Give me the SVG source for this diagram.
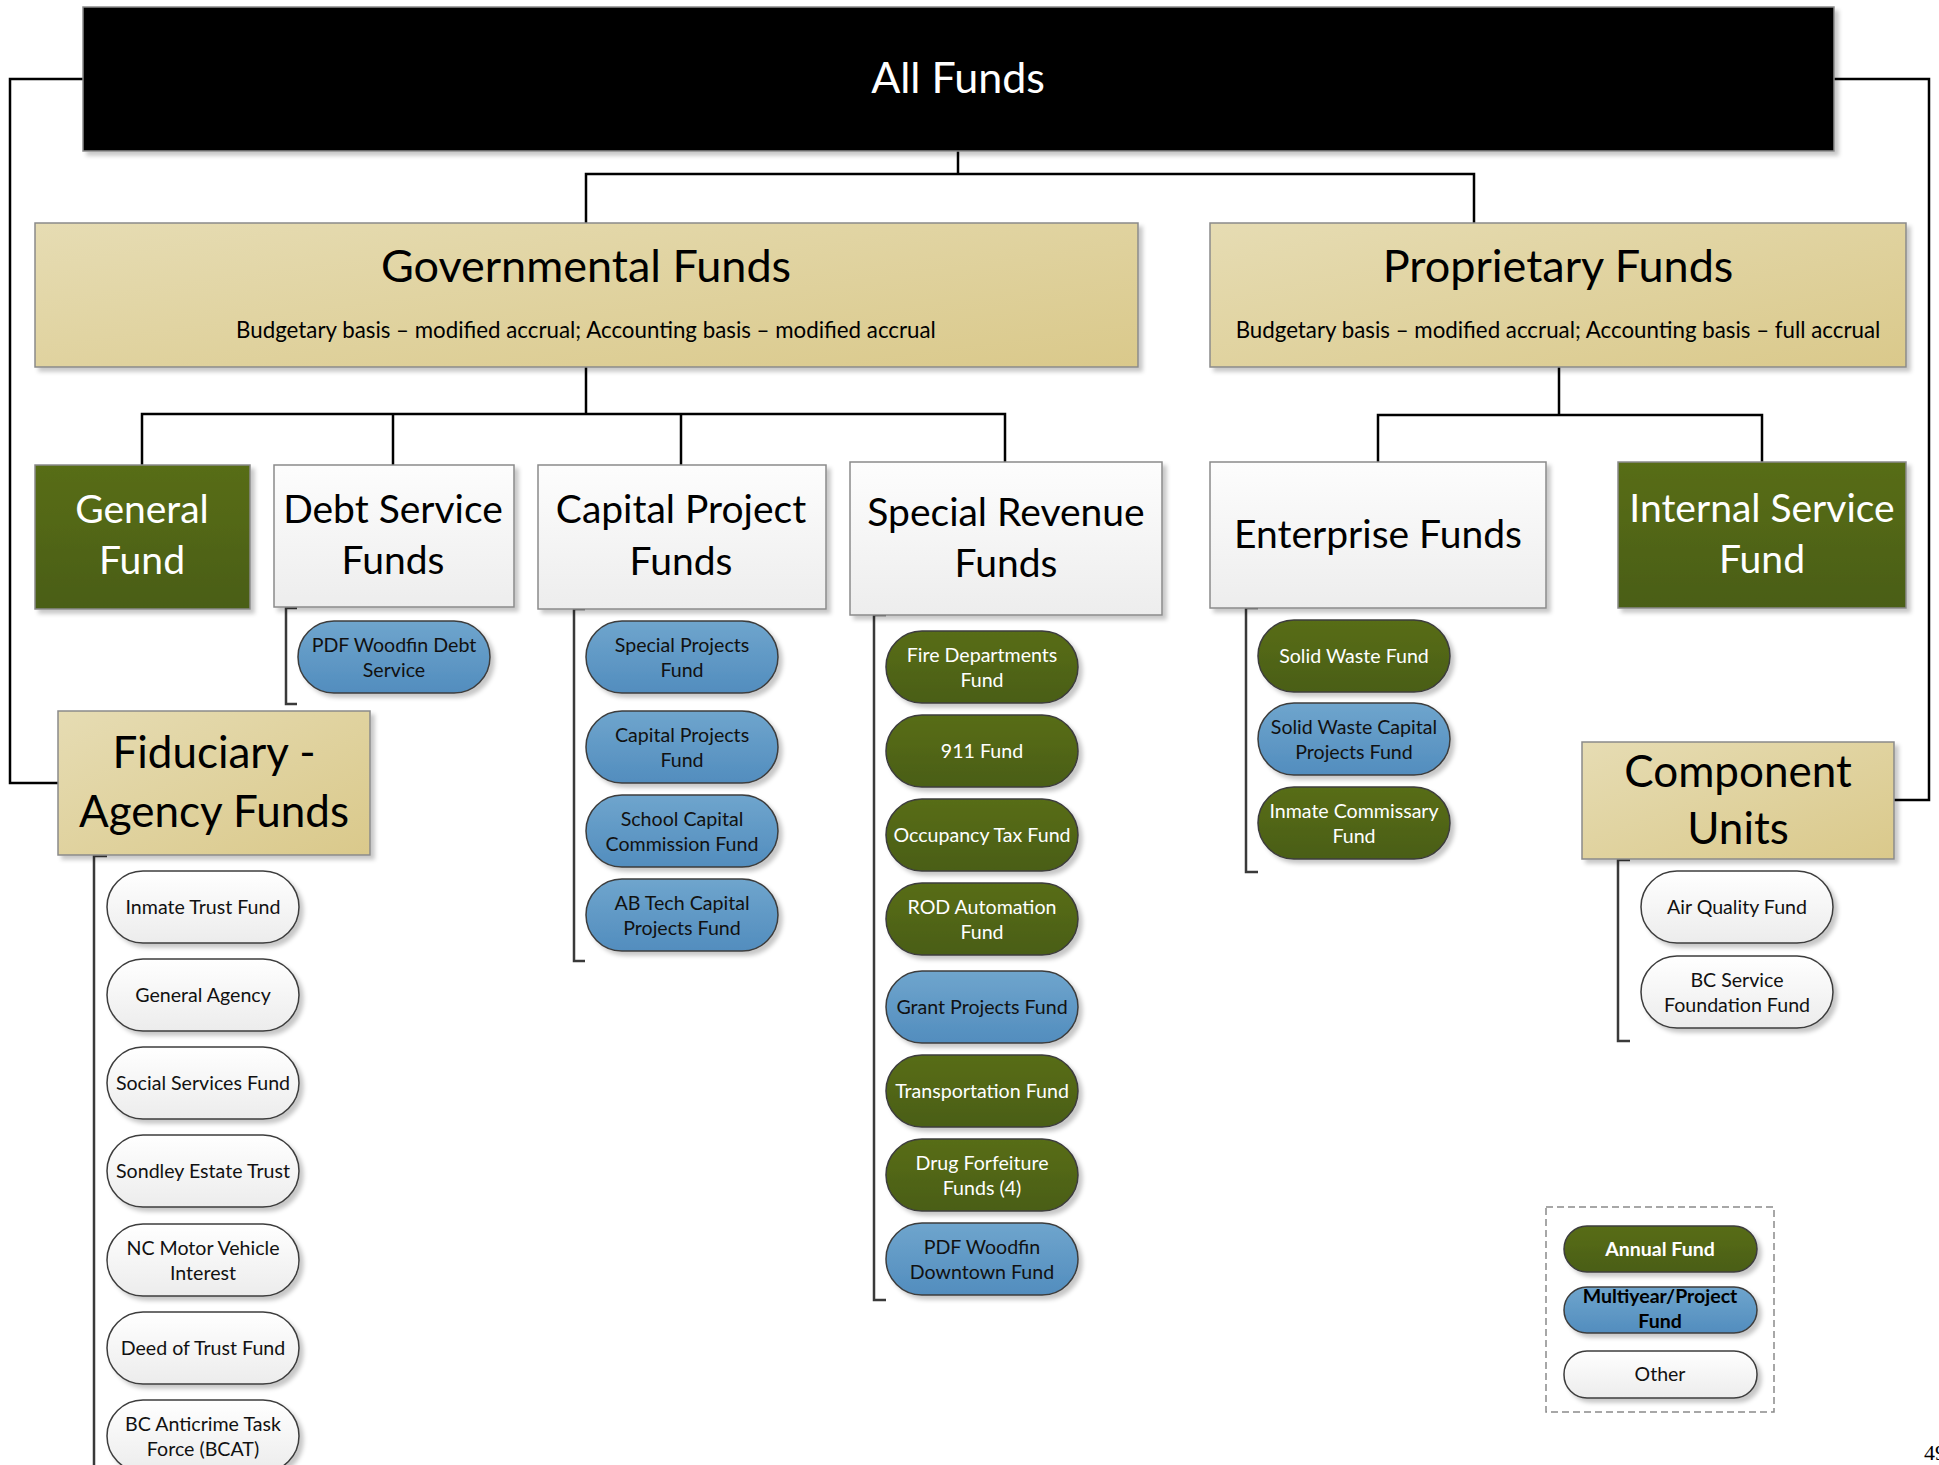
<svg xmlns="http://www.w3.org/2000/svg" width="1939" height="1465" viewBox="0 0 1939 1465">
  <defs>
    <linearGradient id="gTan" x1="0" y1="0" x2="1" y2="1">
      <stop offset="0" stop-color="#e6dcb3"/>
      <stop offset="1" stop-color="#dac98b"/>
    </linearGradient>
    <linearGradient id="gWhite" x1="0" y1="0" x2="0" y2="1">
      <stop offset="0" stop-color="#fdfdfd"/>
      <stop offset="1" stop-color="#ededed"/>
    </linearGradient>
    <linearGradient id="gGreen" x1="0" y1="0" x2="0" y2="1">
      <stop offset="0" stop-color="#586d19"/>
      <stop offset="1" stop-color="#4a5e14"/>
    </linearGradient>
    <linearGradient id="gBlue" x1="0" y1="0" x2="0" y2="1">
      <stop offset="0" stop-color="#6fa5cd"/>
      <stop offset="1" stop-color="#528dbe"/>
    </linearGradient>
    <linearGradient id="gPillWhite" x1="0" y1="0" x2="0" y2="1">
      <stop offset="0" stop-color="#ffffff"/>
      <stop offset="1" stop-color="#ececec"/>
    </linearGradient>
    <filter id="shadow" x="-10%" y="-10%" width="125%" height="130%">
      <feDropShadow dx="4" dy="4" stdDeviation="2" flood-color="#000" flood-opacity="0.22"/>
    </filter>
  </defs>
  <style>
    text { font-family: Lato, "Open Sans", "Liberation Sans", sans-serif; text-anchor: middle; }
    .box { stroke: #8a8a8a; stroke-width: 1.5; filter: url(#shadow); }
    .tan { fill: url(#gTan); }
    .wht { fill: url(#gWhite); }
    .grn { fill: url(#gGreen); }
    .blk { fill: #000; }
    .pill { stroke: #3c3c3c; stroke-width: 1.5; filter: url(#shadow); }
    .pg { fill: url(#gGreen); }
    .pb { fill: url(#gBlue); }
    .pw { fill: url(#gPillWhite); }
    .t1 { font-size: 43px; fill: #fff; }
    .t2 { font-size: 45px; fill: #000; }
    .sub { font-size: 22.3px; fill: #000; }
    .t3 { font-size: 39px; fill: #000; }
    .t3w { font-size: 39px; fill: #fff; }
    .t4 { font-size: 44px; fill: #000; }
    .pt { font-size: 19.6px; fill: #111; }
    .ptw { font-size: 19.6px; fill: #fff; }
    .lg { font-size: 19.5px; font-weight: bold; }
    .conn { fill: none; stroke: #000; stroke-width: 2.5; }
    .brk { fill: none; stroke: #3a3a3a; stroke-width: 2.5; }
    .legend { fill: none; stroke: #8a8a8a; stroke-width: 1.5; stroke-dasharray: 7 4; }
  </style>

  <!-- connectors -->
  <g id="connectors">
    <polyline class="conn" points="958,151 958,174"/>
    <polyline class="conn" points="586,223 586,174 1474,174 1474,223"/>
    <polyline class="conn" points="83,79 10,79 10,783 58,783"/>
    <polyline class="conn" points="1834,79 1929,79 1929,800 1894,800"/>
    <polyline class="conn" points="586,367 586,414"/>
    <polyline class="conn" points="142,465 142,414 1005,414 1005,462"/>
    <polyline class="conn" points="393,414 393,465"/>
    <polyline class="conn" points="681,414 681,465"/>
    <polyline class="conn" points="1559,367 1559,415"/>
    <polyline class="conn" points="1378,462 1378,415 1762,415 1762,462"/>
    <!-- child brackets -->
    <polyline class="brk" points="297,608 286,608 286,704 297,704"/>
    <polyline class="brk" points="585,609 574,609 574,961 585,961"/>
    <polyline class="brk" points="886,615 874,615 874,1300 886,1300"/>
    <polyline class="brk" points="1258,608 1246,608 1246,872 1258,872"/>
    <polyline class="brk" points="1630,860 1618,860 1618,1041 1630,1041"/>
    <polyline class="brk" points="107,856 94,856 94,1470"/>
  </g>

  <!-- top level -->
  <g id="all-funds">
    <rect class="box blk" x="83" y="7" width="1751" height="144"/>
    <text class="t1" x="958" y="93">All Funds</text>
  </g>
  <g id="governmental-funds">
    <rect class="box tan" x="35" y="223" width="1103" height="144"/>
    <text class="t2" x="586" y="282">Governmental Funds</text>
    <text class="sub" x="586" y="338">Budgetary basis – modified accrual; Accounting basis – modified accrual</text>
  </g>
  <g id="proprietary-funds">
    <rect class="box tan" x="1210" y="223" width="696" height="144"/>
    <text class="t2" x="1558" y="282">Proprietary Funds</text>
    <text class="sub" x="1558" y="338">Budgetary basis – modified accrual; Accounting basis – full accrual</text>
  </g>

  <!-- fund types -->
  <g id="general-fund">
    <rect class="box grn" x="35" y="465" width="215" height="144"/>
    <text class="t3w" x="142" y="523">General</text>
    <text class="t3w" x="142" y="574">Fund</text>
  </g>
  <g id="debt-service-funds">
    <rect class="box wht" x="274" y="465" width="240" height="142"/>
    <text class="t3" x="393" y="523">Debt Service</text>
    <text class="t3" x="393" y="574">Funds</text>
  </g>
  <g id="capital-project-funds">
    <rect class="box wht" x="538" y="465" width="288" height="144"/>
    <text class="t3" x="681" y="523">Capital Project</text>
    <text class="t3" x="681" y="575">Funds</text>
  </g>
  <g id="special-revenue-funds">
    <rect class="box wht" x="850" y="462" width="312" height="153"/>
    <text class="t3" x="1006" y="526">Special Revenue</text>
    <text class="t3" x="1006" y="577">Funds</text>
  </g>
  <g id="enterprise-funds">
    <rect class="box wht" x="1210" y="462" width="336" height="146"/>
    <text class="t3" x="1378" y="548">Enterprise Funds</text>
  </g>
  <g id="internal-service-fund">
    <rect class="box grn" x="1618" y="462" width="288" height="146"/>
    <text class="t3w" x="1762" y="522">Internal Service</text>
    <text class="t3w" x="1762" y="573">Fund</text>
  </g>
  <g id="fiduciary-agency-funds">
    <rect class="box tan" x="58" y="711" width="312" height="144"/>
    <text class="t4" x="214" y="768">Fiduciary -</text>
    <text class="t4" x="214" y="827">Agency Funds</text>
  </g>
  <g id="component-units">
    <rect class="box tan" x="1582" y="742" width="312" height="117"/>
    <text class="t4" x="1738" y="787">Component</text>
    <text class="t4" x="1738" y="844">Units</text>
  </g>

  <!-- debt service -->
  <g id="pdf-woodfin-debt-service">
    <rect class="pill pb" x="298" y="621" width="192" height="72" rx="36"/>
    <text class="pt" x="394" y="652">PDF Woodfin Debt</text>
    <text class="pt" x="394" y="677">Service</text>
  </g>

  <!-- capital projects -->
  <g id="special-projects-fund">
    <rect class="pill pb" x="586" y="621" width="192" height="72" rx="36"/>
    <text class="pt" x="682" y="652">Special Projects</text>
    <text class="pt" x="682" y="677">Fund</text>
  </g>
  <g id="capital-projects-fund">
    <rect class="pill pb" x="586" y="711" width="192" height="72" rx="36"/>
    <text class="pt" x="682" y="742">Capital Projects</text>
    <text class="pt" x="682" y="767">Fund</text>
  </g>
  <g id="school-capital-commission-fund">
    <rect class="pill pb" x="586" y="795" width="192" height="72" rx="36"/>
    <text class="pt" x="682" y="826">School Capital</text>
    <text class="pt" x="682" y="851">Commission Fund</text>
  </g>
  <g id="ab-tech-capital-projects-fund">
    <rect class="pill pb" x="586" y="879" width="192" height="72" rx="36"/>
    <text class="pt" x="682" y="910">AB Tech Capital</text>
    <text class="pt" x="682" y="935">Projects Fund</text>
  </g>

  <!-- special revenue -->
  <g id="fire-departments-fund">
    <rect class="pill pg" x="886" y="631" width="192" height="72" rx="36"/>
    <text class="ptw" x="982" y="662">Fire Departments</text>
    <text class="ptw" x="982" y="687">Fund</text>
  </g>
  <g id="fund-911">
    <rect class="pill pg" x="886" y="715" width="192" height="72" rx="36"/>
    <text class="ptw" x="982" y="758">911 Fund</text>
  </g>
  <g id="occupancy-tax-fund">
    <rect class="pill pg" x="886" y="799" width="192" height="72" rx="36"/>
    <text class="ptw" x="982" y="842">Occupancy Tax Fund</text>
  </g>
  <g id="rod-automation-fund">
    <rect class="pill pg" x="886" y="883" width="192" height="72" rx="36"/>
    <text class="ptw" x="982" y="914">ROD Automation</text>
    <text class="ptw" x="982" y="939">Fund</text>
  </g>
  <g id="grant-projects-fund">
    <rect class="pill pb" x="886" y="971" width="192" height="72" rx="36"/>
    <text class="pt" x="982" y="1014">Grant Projects Fund</text>
  </g>
  <g id="transportation-fund">
    <rect class="pill pg" x="886" y="1055" width="192" height="72" rx="36"/>
    <text class="ptw" x="982" y="1098">Transportation Fund</text>
  </g>
  <g id="drug-forfeiture-funds">
    <rect class="pill pg" x="886" y="1139" width="192" height="72" rx="36"/>
    <text class="ptw" x="982" y="1170">Drug Forfeiture</text>
    <text class="ptw" x="982" y="1195">Funds (4)</text>
  </g>
  <g id="pdf-woodfin-downtown-fund">
    <rect class="pill pb" x="886" y="1223" width="192" height="72" rx="36"/>
    <text class="pt" x="982" y="1254">PDF Woodfin</text>
    <text class="pt" x="982" y="1279">Downtown Fund</text>
  </g>

  <!-- enterprise -->
  <g id="solid-waste-fund">
    <rect class="pill pg" x="1258" y="620" width="192" height="72" rx="36"/>
    <text class="ptw" x="1354" y="663">Solid Waste Fund</text>
  </g>
  <g id="solid-waste-capital-projects-fund">
    <rect class="pill pb" x="1258" y="703" width="192" height="72" rx="36"/>
    <text class="pt" x="1354" y="734">Solid Waste Capital</text>
    <text class="pt" x="1354" y="759">Projects Fund</text>
  </g>
  <g id="inmate-commissary-fund">
    <rect class="pill pg" x="1258" y="787" width="192" height="72" rx="36"/>
    <text class="ptw" x="1354" y="818">Inmate Commissary</text>
    <text class="ptw" x="1354" y="843">Fund</text>
  </g>

  <!-- component units -->
  <g id="air-quality-fund">
    <rect class="pill pw" x="1641" y="871" width="192" height="72" rx="36"/>
    <text class="pt" x="1737" y="914">Air Quality Fund</text>
  </g>
  <g id="bc-service-foundation-fund">
    <rect class="pill pw" x="1641" y="956" width="192" height="72" rx="36"/>
    <text class="pt" x="1737" y="987">BC Service</text>
    <text class="pt" x="1737" y="1012">Foundation Fund</text>
  </g>

  <!-- fiduciary -->
  <g id="inmate-trust-fund">
    <rect class="pill pw" x="107" y="871" width="192" height="72" rx="36"/>
    <text class="pt" x="203" y="914">Inmate Trust Fund</text>
  </g>
  <g id="general-agency">
    <rect class="pill pw" x="107" y="959" width="192" height="72" rx="36"/>
    <text class="pt" x="203" y="1002">General Agency</text>
  </g>
  <g id="social-services-fund">
    <rect class="pill pw" x="107" y="1047" width="192" height="72" rx="36"/>
    <text class="pt" x="203" y="1090">Social Services Fund</text>
  </g>
  <g id="sondley-estate-trust">
    <rect class="pill pw" x="107" y="1135" width="192" height="72" rx="36"/>
    <text class="pt" x="203" y="1178">Sondley Estate Trust</text>
  </g>
  <g id="nc-motor-vehicle-interest">
    <rect class="pill pw" x="107" y="1224" width="192" height="72" rx="36"/>
    <text class="pt" x="203" y="1255">NC Motor Vehicle</text>
    <text class="pt" x="203" y="1280">Interest</text>
  </g>
  <g id="deed-of-trust-fund">
    <rect class="pill pw" x="107" y="1312" width="192" height="72" rx="36"/>
    <text class="pt" x="203" y="1355">Deed of Trust Fund</text>
  </g>
  <g id="bc-anticrime-task-force">
    <rect class="pill pw" x="107" y="1400" width="192" height="72" rx="36"/>
    <text class="pt" x="203" y="1431">BC Anticrime Task</text>
    <text class="pt" x="203" y="1456">Force (BCAT)</text>
  </g>

  <!-- legend -->
  <g id="legend">
    <rect class="legend" x="1546" y="1207" width="228" height="205"/>
    <rect class="pill pg" x="1564" y="1226" width="193" height="46" rx="23"/>
    <text class="lg" x="1660" y="1256" fill="#fff">Annual Fund</text>
    <rect class="pill pb" x="1564" y="1287" width="193" height="46" rx="23"/>
    <text class="lg" x="1660" y="1303" fill="#000">Multiyear/Project</text>
    <text class="lg" x="1660" y="1328" fill="#000">Fund</text>
    <rect class="pill pw" x="1564" y="1351" width="193" height="47" rx="23"/>
    <text x="1660" y="1381" style="font-size:19.5px" fill="#111">Other</text>
  </g>

  <text x="1924" y="1460" style="font-family:'Liberation Serif',serif;font-size:22px;text-anchor:start" fill="#000">49</text>
</svg>
